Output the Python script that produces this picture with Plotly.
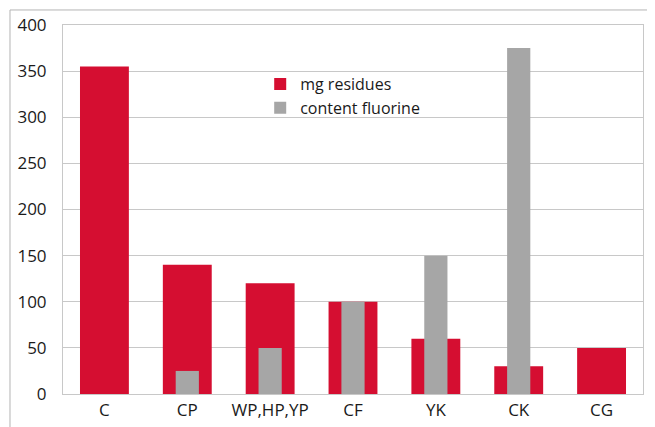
import plotly.graph_objects as go

categories = ["C", "CP", "WP,HP,YP", "CF", "YK", "CK", "CG"]
mg_residues = [355, 140, 120, 100, 60, 30, 50]
content_fluorine = [None, 25, 50, 100, 150, 375, None]
y_ticks = [0, 50, 100, 150, 200, 250, 300, 350, 400]

RED = "#D50E31"
GREY = "#A6A6A6"
FONT = "Open Sans"

fig = go.Figure()
fig.add_trace(go.Bar(x=categories, y=mg_residues, name="mg residues",
                     marker=dict(color=RED, line=dict(width=0)), width=0.59))
fig.add_trace(go.Bar(x=categories, y=content_fluorine, name="content fluorine",
                     marker=dict(color=GREY, line=dict(width=0)), width=0.28))

# the page body adds an 8px offset, so margins compensate for it
fig.update_layout(
    width=655, height=427,
    margin=dict(l=55, r=20, t=17, b=41),
    barmode="overlay",
    paper_bgcolor="white", plot_bgcolor="white",
    font=dict(family=FONT, size=17, color="#1a1a1a"),
    legend=dict(x=0.34, y=0.886, xanchor="left", yanchor="top",
                bgcolor="rgba(0,0,0,0)", font=dict(size=16),
                tracegroupgap=0, itemwidth=30),
    showlegend=True,
    shapes=[dict(type="rect", xref="paper", yref="paper",
                 x0=-0.0914, x1=1.2, y0=-0.3, y1=1.0407,
                 line=dict(color="#b4b4b4", width=1), layer="below")],
)
fig.update_xaxes(showline=True, linecolor="#c8c8c8", linewidth=1, mirror=True,
                 ticks="", tickfont=dict(size=17), ticklabelstandoff=1,
                 automargin=False)
fig.update_yaxes(range=[0, 400], tickvals=y_ticks, showgrid=True,
                 gridcolor="#c8c8c8", gridwidth=1, showline=True,
                 linecolor="#c8c8c8", linewidth=1, mirror=True,
                 zeroline=False, ticks="", tickfont=dict(size=17),
                 ticklabelstandoff=12, automargin=False)

fig.write_html("out.html")
